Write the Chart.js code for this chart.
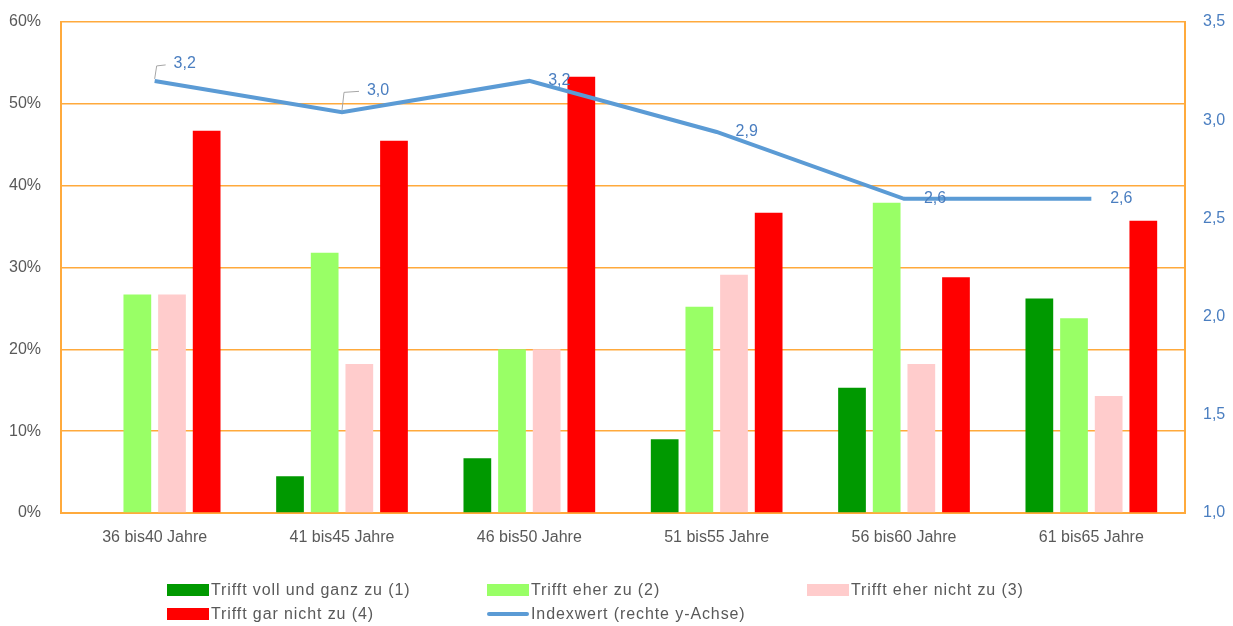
<!DOCTYPE html>
<html>
<head>
<meta charset="utf-8">
<script src="https://cdn.jsdelivr.net/npm/chart.js@4/dist/chart.umd.min.js"></script>
<style>
  html, body { margin: 0; padding: 0; background: #fff; }
  #wrap { position: relative; width: 1233px; height: 626px; }
  #legend { position: absolute; left: 0; top: 0; width: 1233px; height: 626px; pointer-events: none;
            font-family: "Liberation Sans", Arial, sans-serif; font-size: 16px; letter-spacing: 0.9px; color: #595959; }
  .li { position: absolute; display: flex; align-items: center; white-space: nowrap; }
  .sw { width: 42px; height: 12px; margin-right: 2px; }
  .ln { width: 42px; height: 4px; border-radius: 2px; margin-right: 2px; }
</style>
</head>
<body>
<div id="wrap">
  <canvas id="c" width="1233" height="626"></canvas>
  <div id="legend"></div>
</div>
<script>
const categories = ["36 bis40 Jahre", "41 bis45 Jahre", "46 bis50 Jahre", "51 bis55 Jahre", "56 bis60 Jahre", "61 bis65 Jahre"];
const seriesNames = ["Trifft voll und ganz zu (1)", "Trifft eher zu (2)", "Trifft eher nicht zu (3)", "Trifft gar nicht zu (4)", "Indexwert (rechte y-Achse)"];
const voll    = [0,    4.5,  6.7,  9.0,  15.3, 26.2];
const eher    = [26.7, 31.8, 20.0, 25.2, 37.9, 23.8];
const eherNicht = [26.7, 18.2, 20.0, 29.1, 18.2, 14.3];
const garNicht  = [46.7, 45.5, 53.3, 36.7, 28.8, 35.7];
const indexwert = [3.2, 3.04, 3.2, 2.94, 2.6, 2.6];
const leftTicks = [0, 10, 20, 30, 40, 50, 60];
const rightTicks = [1.0, 1.5, 2.0, 2.5, 3.0, 3.5];

const colors = ["#009900", "#99FF66", "#FFCCCC", "#FF0000", "#5B9BD5"];
const orange = "#FFAA3C";
const font = "'Liberation Sans', Arial, sans-serif";

// label placement (style only)
const labelOffsets = [
  {dx: 30, dy: -17, leader: true},
  {dx: 36, dy: -22, leader: true},
  {dx: 30, dy: 0},
  {dx: 30, dy: 0},
  {dx: 31, dy: 0},
  {dx: 30, dy: 0}
];

const lineLabels = {
  id: 'lineLabels',
  afterDatasetsDraw(chart) {
    const ctx = chart.ctx;
    const idx = chart.data.datasets.length - 1;
    const meta = chart.getDatasetMeta(idx);
    const data = chart.data.datasets[idx].data;
    ctx.save();
    ctx.font = "16px " + font;
    ctx.fillStyle = "#4A7EC0";
    ctx.textAlign = "center";
    ctx.textBaseline = "middle";
    meta.data.forEach((pt, i) => {
      const o = labelOffsets[i];
      const tx = pt.x + o.dx, ty = pt.y + o.dy;
      if (o.leader) {
        ctx.strokeStyle = "#A6A6A6";
        ctx.lineWidth = 1;
        ctx.beginPath();
        ctx.moveTo(pt.x, pt.y - 2);
        ctx.lineTo(pt.x + 2, ty + 2);
        ctx.lineTo(tx - 19, ty + 1);
        ctx.stroke();
      }
      ctx.fillText(data[i].toFixed(1).replace('.', ','), tx, ty);
    });
    ctx.restore();
  }
};

const barData = [voll, eher, eherNicht, garNicht];
const datasets = barData.map((d, i) => ({
  type: 'bar',
  label: seriesNames[i],
  data: d,
  backgroundColor: colors[i],
  borderWidth: 0,
  yAxisID: 'y',
  order: 2,
  categoryPercentage: 0.74,
  barPercentage: 0.8
}));
datasets.push({
  type: 'line',
  label: seriesNames[4],
  data: indexwert,
  borderColor: colors[4],
  backgroundColor: colors[4],
  borderWidth: 4,
  pointRadius: 0,
  tension: 0,
  yAxisID: 'y1',
  order: 1
});

function noPad(s) { s.paddingTop = 0; s.paddingBottom = 0; }

new Chart(document.getElementById('c'), {
  data: { labels: categories, datasets },
  options: {
    responsive: false,
    animation: false,
    layout: { padding: { top: 22, left: 0, right: 0, bottom: 0 } },
    plugins: { legend: { display: false }, tooltip: { enabled: false } },
    scales: {
      x: {
        grid: { display: false, drawTicks: false },
        border: { color: orange, width: 2 },
        ticks: { font: { family: font, size: 16 }, color: "#595959", padding: 15, maxRotation: 0 },
        afterFit(s) { s.height = 113; s.paddingLeft = 0; s.paddingRight = 0; }
      },
      y: {
        position: 'left',
        min: 0, max: 60,
        afterBuildTicks(s) { s.ticks = leftTicks.map(v => ({ value: v })); },
        grid: { color: orange, lineWidth: 1.5, drawTicks: false },
        border: { color: orange, width: 2 },
        ticks: { font: { family: font, size: 16 }, color: "#595959", padding: 20, callback: v => v + "%" },
        afterFit(s) { s.width = 61; noPad(s); }
      },
      y1: {
        position: 'right',
        min: 1.0, max: 3.5,
        afterBuildTicks(s) { s.ticks = rightTicks.map(v => ({ value: v })); },
        grid: { display: false, drawTicks: false },
        border: { color: orange, width: 2 },
        ticks: { font: { family: font, size: 16 }, color: "#4A7EC0", padding: 18,
                 callback: v => Number(v).toFixed(1).replace('.', ',') },
        afterFit(s) { s.width = 48; noPad(s); }
      }
    }
  },
  plugins: [lineLabels]
});

// HTML legend built from the series
const legendPos = [
  {x: 167, y: 590}, {x: 487, y: 590}, {x: 807, y: 590},
  {x: 167, y: 614}, {x: 487, y: 614}
];
const lg = document.getElementById('legend');
seriesNames.forEach((name, i) => {
  const el = document.createElement('div');
  el.className = 'li';
  el.style.left = legendPos[i].x + 'px';
  el.style.top = (legendPos[i].y - 10) + 'px';
  el.style.height = '20px';
  const sw = document.createElement('span');
  sw.className = i === 4 ? 'ln' : 'sw';
  sw.style.background = colors[i];
  el.appendChild(sw);
  const t = document.createElement('span');
  t.textContent = name;
  el.appendChild(t);
  lg.appendChild(el);
});
</script>
</body>
</html>
